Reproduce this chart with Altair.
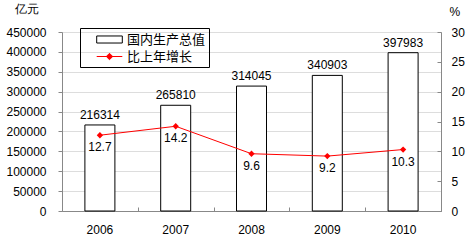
import altair as alt
import pandas as pd

years = ["2006", "2007", "2008", "2009", "2010"]
gdp = [216314, 265810, 314045, 340903, 397983]
growth = [12.7, 14.2, 9.6, 9.2, 10.3]
series_names = ["国内生产总值", "比上年增长"]
left_ticks = [0, 50000, 100000, 150000, 200000, 250000, 300000, 350000, 400000, 450000]
right_ticks = [0, 5, 10, 15, 20, 25, 30]

FONT = "Liberation Sans, Arial, Noto Sans CJK SC"

df = pd.DataFrame({"year": years, "gdp": gdp, "growth": growth})
legend_df = pd.DataFrame({"s": series_names})

xscale = alt.Scale(paddingInner=0, paddingOuter=0)
lscale = alt.Scale(domain=[0, 450000], nice=False)
rscale = alt.Scale(domain=[0, 30], nice=False)

base = alt.Chart(df)

x_label_axis = alt.Axis(orient="bottom", ticks=False, tickSize=0, labelPadding=13,
                        labelAngle=0, title=None, domain=True, labelFontSize=12, labelFont=FONT)
x_tick_axis = alt.Axis(orient="bottom", offset=-4, domain=False, labels=False,
                       ticks=True, tickSize=4, tickBand="extent", title=None)

left_axis = alt.Axis(orient="left", values=left_ticks, format="d", tickSize=4,
                     labelPadding=12, labelFontSize=12, labelFont=FONT,
                     title="亿元", titleAngle=0, titleAlign="left",
                     titleBaseline="middle", titleX=-48, titleY=-24, titleFontWeight="normal",
                     titleFontSize=12)
right_label_axis = alt.Axis(orient="right", values=right_ticks, ticks=False, tickSize=0,
                            labelPadding=10, labelFontSize=12, labelFont=FONT,
                            title="%", titleAngle=0, titleAlign="left",
                            titleBaseline="middle", titleX=8, titleY=-21, titleFontWeight="normal",
                            titleFontSize=12)
right_tick_axis = alt.Axis(orient="right", values=right_ticks, offset=-4, domain=False,
                           labels=False, ticks=True, tickSize=4, title=None)

bars = base.mark_bar(size=30, fill="white", stroke="black", strokeWidth=1).encode(
    x=alt.X("year:N", scale=xscale, axis=x_label_axis),
    y=alt.Y("gdp:Q", scale=lscale, axis=left_axis),
)
bar_text = base.mark_text(dy=-10, fontSize=12, font=FONT, color="black").encode(
    x=alt.X("year:N", scale=xscale, axis=None),
    y=alt.Y("gdp:Q", scale=lscale, axis=None),
    text=alt.Text("gdp:Q", format="d"),
)
line = base.mark_line(color="red", strokeWidth=1).encode(
    x=alt.X("year:N", scale=xscale, axis=None),
    y=alt.Y("growth:Q", scale=rscale, axis=right_label_axis),
)
pts = base.mark_point(shape="diamond", filled=True, color="red", size=40, opacity=1).encode(
    x=alt.X("year:N", scale=xscale, axis=x_tick_axis),
    y=alt.Y("growth:Q", scale=rscale, axis=right_tick_axis),
)
line_text = base.mark_text(baseline="top", dy=7, fontSize=12, font=FONT, color="black").encode(
    x=alt.X("year:N", scale=xscale, axis=None),
    y=alt.Y("growth:Q", scale=rscale, axis=None),
    text=alt.Text("growth:Q", format=".1f"),
)

rect_path = "M-1.6,-0.44H1.6V0.44H-1.6Z"
line_path = "M-1.6,0H1.6M0,-0.4L0.4,0L0,0.4L-0.4,0Z"

leg = alt.Legend(orient="none", legendX=18, legendY=-4, strokeColor="black", padding=3,
                 title="\u00a0\u00a0\u00a0\u00a0", titleOrient="right", titlePadding=0,
                 titleFontSize=12, titleFont=FONT,
                 labelFontSize=13, labelFont=FONT, labelColor="black",
                 symbolSize=256, symbolStrokeWidth=1, rowPadding=1, labelOffset=9,
                 symbolOffset=18)

legend_layer = alt.Chart(legend_df).transform_filter("false").mark_point(filled=True, opacity=1).encode(
    shape=alt.Shape("s:N", scale=alt.Scale(domain=series_names, range=[rect_path, line_path]), legend=leg),
    fill=alt.Fill("s:N", scale=alt.Scale(domain=series_names, range=["white", "red"]), legend=leg),
    stroke=alt.Stroke("s:N", scale=alt.Scale(domain=series_names, range=["black", "red"]), legend=leg),
)

chart = alt.layer(bars, bar_text, line, pts, line_text, legend_layer).resolve_scale(
    y="independent"
).resolve_axis(x="independent").properties(
    width=379, height=179, autosize="none",
    padding={"left": 62, "top": 32, "right": 26, "bottom": 33},
).configure_view(stroke=None).configure_axis(
    domainColor="black", tickColor="black", labelColor="black", titleColor="black",
    labelFont=FONT, titleFont=FONT, labelFontSize=12, domainWidth=1, tickWidth=1,
    grid=False,
).configure(background="white")

chart.save("out.html", embed_options={"renderer": "svg", "actions": False})
